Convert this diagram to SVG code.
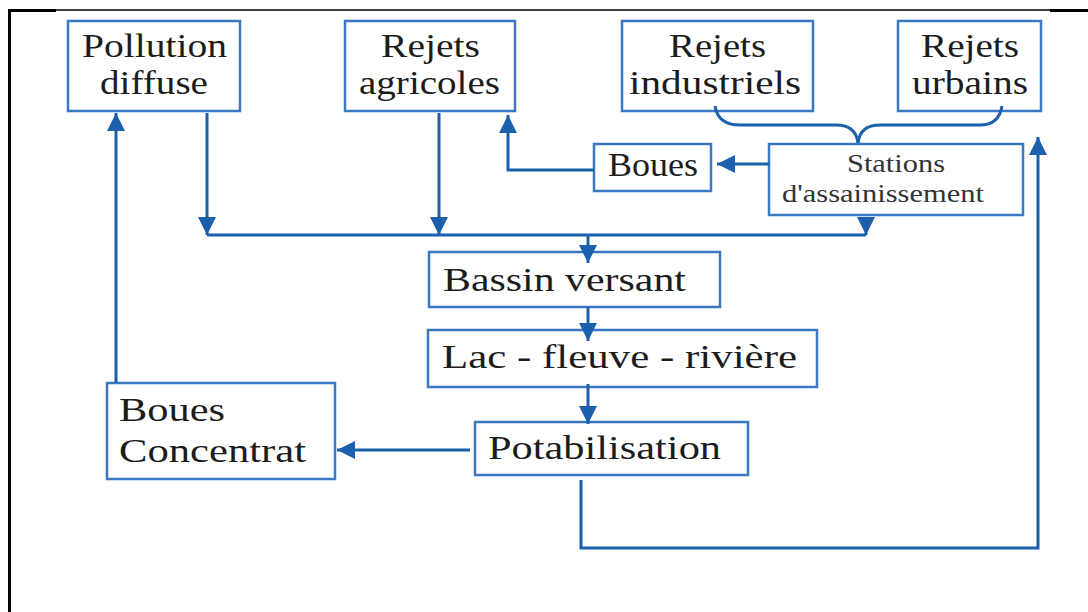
<svg xmlns="http://www.w3.org/2000/svg" width="1088" height="612" viewBox="0 0 1088 612">
<style>
.box{fill:#fff;stroke:#3a78c2;stroke-width:2.5}
.t{font-family:"Liberation Serif","Times New Roman",serif;font-size:33px;fill:#1c1c1c}
.s{font-size:25px;fill:#333}
.c{fill:none;stroke:#1b5fad;stroke-width:3}
.frame{stroke:#000;fill:none}
</style>
<defs>
<marker id="ah" viewBox="0 0 10 10" refX="10" refY="5" markerWidth="6" markerHeight="6.5" markerUnits="strokeWidth" orient="auto">
<path d="M0,0 L10,5 L0,10 z" fill="#1b5fad"/>
</marker>
</defs>
<rect width="1088" height="612" fill="#fff"/>
<g id="frame">
<line class="frame" x1="9.5" y1="10" x2="9.5" y2="612" stroke-width="3"/>
<line class="frame" x1="8" y1="10" x2="1088" y2="10" stroke-width="1.5"/>
<line class="frame" x1="8" y1="10.5" x2="56" y2="10.5" stroke-width="3"/>
<line class="frame" x1="1050" y1="10.5" x2="1088" y2="10.5" stroke-width="3"/>
</g>
<g id="pollution-diffuse">
<rect class="box" x="68" y="21" width="172" height="90"/>
<text class="t" x="82" y="57" textLength="145" lengthAdjust="spacingAndGlyphs">Pollution</text>
<text class="t" x="100" y="94" textLength="108" lengthAdjust="spacingAndGlyphs">diffuse</text>
</g>
<g id="rejets-agricoles">
<rect class="box" x="345" y="21" width="170" height="90"/>
<text class="t" x="381" y="57" textLength="99" lengthAdjust="spacingAndGlyphs">Rejets</text>
<text class="t" x="359" y="94" textLength="141" lengthAdjust="spacingAndGlyphs">agricoles</text>
</g>
<g id="rejets-industriels">
<rect class="box" x="622" y="21" width="191" height="90"/>
<text class="t" x="669" y="57" textLength="97" lengthAdjust="spacingAndGlyphs">Rejets</text>
<text class="t" x="629" y="94" textLength="172" lengthAdjust="spacingAndGlyphs">industriels</text>
</g>
<g id="rejets-urbains">
<rect class="box" x="898" y="21" width="143" height="90"/>
<text class="t" x="921" y="57" textLength="98" lengthAdjust="spacingAndGlyphs">Rejets</text>
<text class="t" x="912" y="94" textLength="116" lengthAdjust="spacingAndGlyphs">urbains</text>
</g>
<g id="boues">
<rect class="box" x="594" y="144" width="117" height="47"/>
<text class="t" x="608" y="176" textLength="90" lengthAdjust="spacingAndGlyphs">Boues</text>
</g>
<g id="stations-assainissement">
<rect class="box" x="769" y="144" width="254" height="71"/>
<text class="t s" x="847" y="172" textLength="98" lengthAdjust="spacingAndGlyphs">Stations</text>
<text class="t s" x="782" y="202" textLength="202" lengthAdjust="spacingAndGlyphs">d'assainissement</text>
</g>
<g id="bassin-versant">
<rect class="box" x="429" y="252" width="291" height="55"/>
<text class="t" x="443" y="291" textLength="243" lengthAdjust="spacingAndGlyphs">Bassin versant</text>
</g>
<g id="lac-fleuve-riviere">
<rect class="box" x="428" y="330" width="389" height="57"/>
<text class="t" x="442" y="368" textLength="355" lengthAdjust="spacingAndGlyphs">Lac - fleuve - rivière</text>
</g>
<g id="potabilisation">
<rect class="box" x="475" y="422" width="273" height="53"/>
<text class="t" x="488" y="459" textLength="233" lengthAdjust="spacingAndGlyphs">Potabilisation</text>
</g>
<g id="boues-concentrat">
<rect class="box" x="107" y="383" width="228" height="96"/>
<text class="t" x="119" y="421" textLength="106" lengthAdjust="spacingAndGlyphs">Boues</text>
<text class="t" x="119" y="462" textLength="187" lengthAdjust="spacingAndGlyphs">Concentrat</text>
</g>
<g id="connectors">
<path class="c" d="M207 113 V235" marker-end="url(#ah)"/>
<path class="c" d="M439 113 V235" marker-end="url(#ah)"/>
<path class="c" d="M866 217 V235" marker-end="url(#ah)"/>
<path class="c" d="M207 235 H866"/>
<path class="c" d="M588 235 V263" marker-end="url(#ah)"/>
<path class="c" d="M588 307 V341" marker-end="url(#ah)"/>
<path class="c" d="M588 384 V424" marker-end="url(#ah)"/>
<path class="c" d="M116 383 V113" marker-end="url(#ah)"/>
<path class="c" d="M470 450 H337" marker-end="url(#ah)"/>
<path class="c" d="M594 170 H508 V115" marker-end="url(#ah)"/>
<path class="c" d="M769 164 H717" marker-end="url(#ah)"/>
<path class="c" d="M581 480 V548 H1038 V137" marker-end="url(#ah)"/>
<path class="c" d="M715 106 Q718 125 740 125 H836 Q856 125 858 143"/>
<path class="c" d="M1002 106 Q999 125 980 125 H880 Q860 125 858 143"/>
</g>
</svg>
